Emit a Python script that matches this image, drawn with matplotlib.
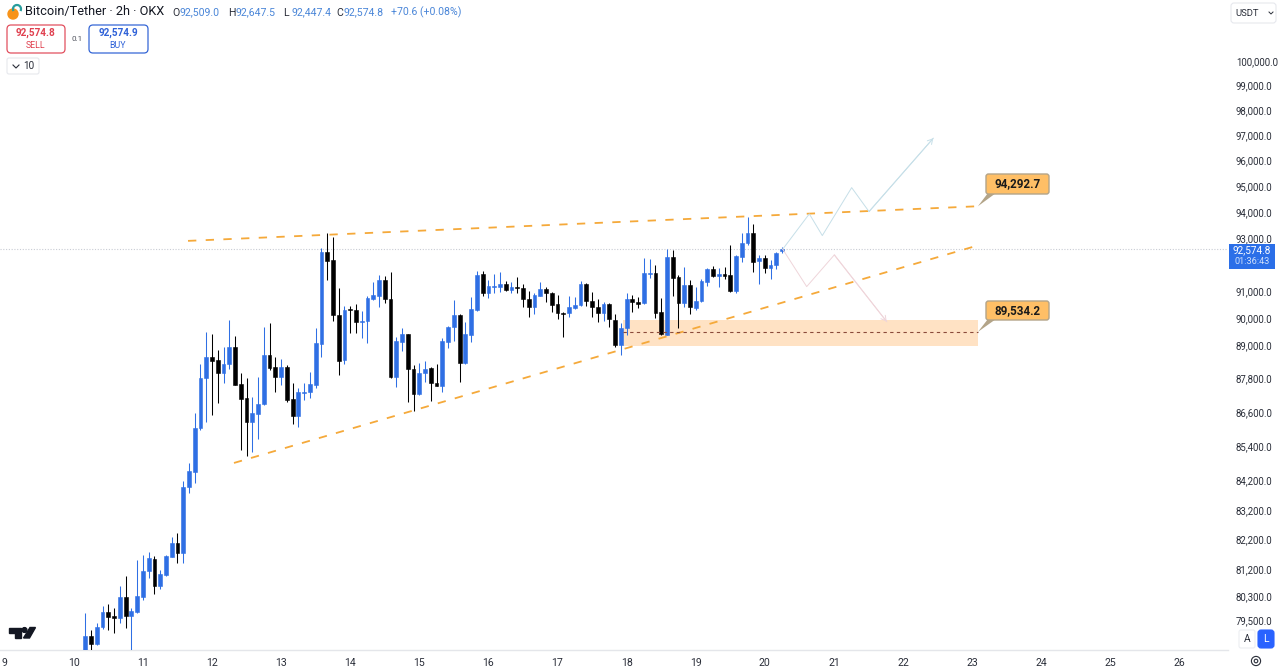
import numpy as np
import matplotlib
matplotlib.use("Agg")
from matplotlib import pyplot as plt
from matplotlib.patches import FancyBboxPatch, Polygon, Circle, Rectangle, Arc

plt.rcParams['font.family'] = ['Roboto', 'Noto Sans', 'DejaVu Sans']

# 2h candles, first one sits on day 10 + 2 bars
bar_open = [78400, 79014, 78745, 79285, 79785, 79640, 79598, 80265, 79663, 79785,
            80265, 81127, 81537, 80650, 81004, 81615, 82063, 81748, 83992, 84508,
            86025, 87807, 88587, 88468, 87987, 88312, 88941, 87602, 87090, 86248,
            86531, 86875, 88650, 88204, 87865, 88215, 87075, 86460, 87290, 87315,
            87566, 89050, 92474, 92171, 90127, 88468, 90327, 90301, 89868, 89883,
            90720, 90820, 91418, 90698, 87865, 89135, 89405, 88142, 87243, 88008,
            88168, 87650, 87541, 89135, 89663, 90105, 88348, 89380, 90301, 91632,
            90943, 91168, 91156, 91269, 91044, 91156, 91107, 90698, 90423, 90831,
            91081, 90943, 90512, 90201, 90179, 90375, 90475, 91258, 90646, 90423,
            90179, 90523, 89931, 89015, 89637, 90720, 90609, 90550, 91655, 91670,
            90227, 89380, 92274, 91519, 90550, 91220, 90364, 90635, 91355, 91820,
            91568, 91644, 91617, 91018, 92297, 92803, 93185, 92120, 92235, 91880,
            91970, 92509.0]
bar_close = [79014, 78745, 79305, 79785, 79630, 79598, 80265, 79653, 79817, 80300,
             81147, 81560, 80650, 81028, 81637, 82063, 81748, 83992, 84532, 86025,
             87827, 88587, 88443, 87987, 88323, 88952, 87577, 87075, 86248, 86556,
             86897, 88650, 88178, 87865, 88204, 87029, 86460, 87315, 87326, 87602,
             89098, 92486, 92145, 90116, 88443, 90301, 90290, 89857, 89894, 90735,
             90846, 91418, 90698, 87843, 89160, 89405, 88131, 87243, 88008, 88142,
             87628, 87541, 89160, 89685, 90105, 88348, 89416, 90327, 91606, 90943,
             91194, 91194, 91269, 91044, 91156, 91107, 90698, 90423, 90857, 91070,
             90920, 90497, 90179, 90164, 90400, 90497, 91258, 90624, 90400, 90179,
             90523, 89957, 89015, 89637, 90698, 90598, 90523, 91670, 91681, 90179,
             89405, 92297, 91505, 90550, 91220, 90400, 90635, 91370, 91820, 91568,
             91644, 91568, 91018, 92322, 92803, 93185, 92107, 92235, 91880, 91982,
             92423, 92574.8]
bar_high = [79762, 79198, 79416, 79980, 80047, 79905, 80650, 80970, 79905, 81503,
            81670, 81780, 81650, 81170, 81670, 82287, 82400, 84197, 84820, 86577,
            88323, 89500, 89416, 88832, 88930, 89931, 89343, 88008, 87807, 87125,
            87843, 89685, 89810, 88587, 88493, 88287, 87628, 87448, 87628, 88023,
            89625, 92615, 93208, 93057, 91107, 90449, 90449, 90523, 90275, 90820,
            91343, 91606, 91568, 91730, 89317, 89625, 89416, 88287, 88348, 88443,
            88215, 88323, 89259, 89711, 90672, 90153, 89868, 90772, 91768, 91768,
            91418, 91644, 91719, 91392, 91355, 91519, 91258, 91007, 90920, 91332,
            91145, 90980, 90857, 90238, 90820, 90794, 91392, 91295, 90980, 90698,
            90609, 90550, 90153, 89810, 90920, 90857, 90772, 92235, 92197, 91982,
            90735, 92577, 92550, 91606, 91920, 91418, 91168, 91445, 91858, 91945,
            91858, 91896, 92740, 92360, 93208, 93810, 93540, 92360, 92360, 92171,
            92486, 92647.5]
bar_low = [78300, 78551, 78712, 79220, 79198, 79110, 79416, 79250, 78400, 79762,
           80178, 80895, 80375, 80530, 80980, 81593, 81393, 81414, 83784, 84128,
           85965, 86260, 86496, 86911, 87650, 88142, 87577, 85263, 85053, 85204,
           85640, 86850, 88106, 87326, 87566, 86968, 86177, 86082, 87029, 87090,
           87448, 88587, 91418, 89905, 87914, 88323, 89440, 89463, 89259, 89077,
           90672, 90400, 90550, 87818, 87505, 88807, 86947, 86648, 87208, 87685,
           87004, 87541, 87326, 88893, 89171, 87685, 88323, 89135, 90275, 90820,
           90757, 90943, 90980, 91018, 90920, 90920, 90423, 90030, 90153, 90820,
           90609, 90238, 89957, 89295, 90053, 90349, 90449, 90449, 90030, 89868,
           89905, 89663, 88955, 88650, 89380, 90238, 90364, 90523, 91482, 89994,
           89380, 89380, 90820, 89625, 90400, 90153, 90301, 90609, 91194, 91542,
           91145, 91445, 90980, 90943, 92107, 92740, 91730, 91269, 91693, 91445,
           91832, 92447.4]

price_ticks = [100000, 99000, 98000, 97000, 96000, 95000, 94000, 93000, 91000, 90000,
               89000, 87800, 86600, 85400, 84200, 83200, 82200, 81200, 80300, 79500]
day_ticks = list(range(9, 27))
last_price = 92574.8

# drawings: (day, price)
upper_days = [11.653, 23.084]
upper_prices = [92892, 94220]
lower_days = [12.318, 23.084]
lower_prices = [84810, 92720]
zone_days = [17.95, 23.084]
zone_prices = [88990, 89931]
zone_mid = 89490
up_days = [20.259, 20.644, 20.832, 21.257, 21.508, 22.438]
up_prices = [92575, 93925, 93094, 94942, 94013, 96883]
down_days = [20.259, 20.606, 21.006, 21.764]
down_prices = [92575, 91167, 92360, 89868]

BLUE = '#2f6fe4'
BLACK = '#000000'
ORANGE = '#f5a93a'

W, H = 1280, 672
fig = plt.figure(figsize=(12.8, 6.72), dpi=100, facecolor='white')
ax = fig.add_axes([0, (H - 650) / H, 1228 / W, 650 / H])
ax.set_yscale('log')
ax.set_xlim(8.932, 26.703)
ax.set_ylim(78551, 102531)

# candles
days = 10 + (np.arange(len(bar_open)) + 2) / 12
bar_open, bar_close = np.array(bar_open), np.array(bar_close)
colors = [BLUE if c >= o else BLACK for o, c in zip(bar_open, bar_close)]
ax.vlines(days, bar_low, bar_high, colors=colors, linewidth=0.75, zorder=3)
ax.bar(days, np.abs(bar_close - bar_open), bottom=np.minimum(bar_open, bar_close), width=0.055,
       color=colors, edgecolor=colors, linewidth=0.4, zorder=4)

# last price line
ax.axhline(last_price, color='#c9ccd4', linewidth=0.8, linestyle=(0, (1, 1.5)), zorder=1)

# trend lines and zone
ax.plot(upper_days, upper_prices, color=ORANGE, linewidth=1.3, linestyle=(0, (4.6, 5.2)), zorder=5)
ax.plot(lower_days, lower_prices, color=ORANGE, linewidth=1.3, linestyle=(0, (4.6, 5.2)), zorder=5)
ax.fill_between(zone_days, zone_prices[0], zone_prices[1], color='#ffe2c4', linewidth=0, zorder=2)
ax.plot(zone_days, [zone_mid, zone_mid], color='#8a4a3a', linewidth=0.8, linestyle=(0, (3, 3)), zorder=5)

# projected paths
ax.plot(up_days, up_prices, color='#c6dfe8', linewidth=0.7, zorder=5)
ax.annotate('', xy=(up_days[-1], up_prices[-1]), xytext=(up_days[-2], up_prices[-2]),
            arrowprops=dict(arrowstyle='->,head_length=0.35,head_width=0.2', color='#c6dfe8',
                            linewidth=0.7, shrinkA=0, shrinkB=0), zorder=5)
ax.plot(down_days, down_prices, color='#efd5da', linewidth=0.7, zorder=5)
ax.annotate('', xy=(down_days[-1], down_prices[-1]), xytext=(down_days[-2], down_prices[-2]),
            arrowprops=dict(arrowstyle='->,head_length=0.35,head_width=0.2', color='#efd5da',
                            linewidth=0.7, shrinkA=0, shrinkB=0), zorder=5)

# axes look
for name in ['top', 'right', 'left']:
    ax.spines[name].set_visible(False)
ax.spines['bottom'].set_color('#e4e6ea')
ax.spines['bottom'].set_linewidth(1)
ax.set_xticks(day_ticks)
ax.set_xticklabels([str(d) for d in day_ticks], fontsize=7.6, color='#2a2e39')
ax.tick_params(axis='x', length=0, pad=6)
ax.yaxis.tick_right()
ax.set_yticks(price_ticks)
ax.set_yticklabels(['{:,.1f}'.format(p) for p in price_ticks], fontsize=6.9, color='#2a2e39')
ax.yaxis.set_minor_locator(matplotlib.ticker.NullLocator())
ax.tick_params(axis='y', length=0, pad=5.6)

# overlay in pixel coordinates for the interface parts
ui = fig.add_axes([0, 0, 1, 1], facecolor='none', zorder=10)
ui.set_xlim(0, W)
ui.set_ylim(H, 0)
ui.axis('off')


def box(x0, y0, x1, y1, face='white', edge='#e0e3eb', lw=0.8, r=3):
    ui.add_patch(FancyBboxPatch((x0 + r, y0 + r), x1 - x0 - 2 * r, y1 - y0 - 2 * r,
                                boxstyle='round,pad={},rounding_size={}'.format(r, r),
                                facecolor=face, edgecolor=edge, linewidth=lw))


def label(x, y, s, size=7.4, color='#2a2e39', ha='left', weight='normal'):
    ui.text(x, y, s, fontsize=size, color=color, ha=ha, va='center', fontweight=weight)


# header
ui.add_patch(Circle((13, 14), 5, color='#f7931a'))
ui.add_patch(Arc((17, 9), 8, 8, theta1=150, theta2=30, color='#2a9d9d', linewidth=1.6))
label(25, 12, 'Bitcoin/Tether · 2h · OKX', size=9.2, color='#131722')
val = '#4a86d8'
x_pos = [172, 228, 283, 336]
for x, key, v in zip(x_pos, 'OHLC', ['92,509.0', '92,647.5', '92,447.4', '92,574.8']):
    label(x, 12.5, key, size=7.6)
    label(x + 8, 12.5, v, size=7.6, color=val)
label(391, 12.5, '+70.6 (+0.08%)', size=7.6, color=val)

box(7, 25, 65, 53, edge='#e2505f', lw=0.9, r=4)
label(35.5, 33, '92,574.8', size=7.2, color='#e0404f', ha='center', weight='bold')
label(35.5, 45, 'SELL', size=6.3, color='#e0404f', ha='center')
label(77, 39, '0.1', size=5.8, color='#50535e', ha='center')
box(89, 25, 148, 53, edge='#3566d6', lw=0.9, r=4)
label(118, 33, '92,574.9', size=7.2, color='#2f62d8', ha='center', weight='bold')
label(118, 45, 'BUY', size=6.3, color='#2f62d8', ha='center')
box(7, 58, 39, 74, edge='#e6e8ed', r=2)
ui.plot([13, 16, 19], [65, 68, 65], color='#2a2e39', linewidth=0.8)
label(23, 66, '10', size=7.2)

box(1231, 3, 1276, 23, edge='#e6e8ed', r=3)
label(1235, 13, 'USDT', size=6.8)
ui.plot([1269, 1271, 1273], [12, 14, 12], color='#2a2e39', linewidth=0.7)

# callouts, pointer goes to the level on the chart
for text, px_box, anchor in [('94,292.7', (986, 174, 1049, 194), (upper_days[1], upper_prices[1])),
                             ('89,534.2', (986, 301, 1049, 320), (zone_days[1], zone_mid))]:
    ax_px = ax.transData.transform(anchor)
    tip = (ax_px[0], H - ax_px[1])
    ui.add_patch(Polygon([tip, (px_box[0] + 2, px_box[3] - 1), (px_box[0] + 10, px_box[3] - 1)],
                         facecolor='#b3a488', edgecolor='none'))
    box(px_box[0], px_box[1], px_box[2], px_box[3], face='#ffbf66', edge='#b3a488', lw=1.0, r=2.5)
    label((px_box[0] + px_box[2]) / 2, (px_box[1] + px_box[3]) / 2, text, size=8.4, color='#1a1a1a',
          ha='center', weight='bold')

# last price tag
ui.add_patch(Rectangle((1229, 244), 46, 25, facecolor='#2b6fe8', edgecolor='none'))
label(1252, 250.5, '92,574.8', size=7.2, color='white', ha='center')
label(1252, 262, '01:36:43', size=6.6, color='#cfe0fb', ha='center')

# tradingview mark
ui.add_patch(Polygon([(9, 627.5), (21, 627.5), (21, 638), (15, 638), (15, 632.5), (9, 632.5)], color='#131722'))
ui.add_patch(Circle((24.5, 630), 2.4, color='#131722'))
ui.add_patch(Polygon([(30, 627.5), (35.5, 627.5), (29.5, 638), (23.5, 638)], color='#131722'))

# auto / log buttons and settings
box(1239, 630, 1255, 648, edge='#eceef2', r=2)
label(1247, 639, 'A', size=7.4, ha='center')
box(1258, 630, 1274, 648, face='#2962ff', edge='#2962ff', r=3)
label(1266, 639, 'L', size=7.4, color='white', ha='center')
ui.add_patch(Circle((1256, 661), 4.6, fill=False, edgecolor='#2a2e39', linewidth=0.8))
ui.add_patch(Circle((1256, 661), 1.8, fill=False, edgecolor='#2a2e39', linewidth=0.8))

fig.savefig('out.png', dpi=100)
